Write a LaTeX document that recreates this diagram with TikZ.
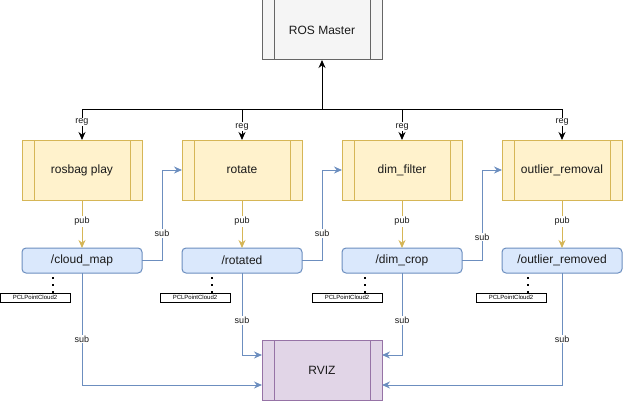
\documentclass[tikz,border=0pt]{standalone}
\usepackage{fontspec}
\setmainfont{Liberation Sans}
\usetikzlibrary{arrows.meta}
\definecolor{yfill}{HTML}{FFF2CC}
\definecolor{ydraw}{HTML}{D6B656}
\definecolor{bfill}{HTML}{DAE8FC}
\definecolor{bdraw}{HTML}{6C8EBF}
\definecolor{pfill}{HTML}{E1D5E7}
\definecolor{pdraw}{HTML}{9673A6}
\definecolor{gfill}{HTML}{F5F5F5}
\definecolor{gdraw}{HTML}{666666}
\definecolor{txt}{HTML}{1A1A1A}
\begin{document}
\begin{tikzpicture}[x=1pt,y=-1pt,
  box/.style={rectangle,minimum width=120pt,minimum height=60pt,inner sep=0pt,outer sep=0pt,line width=1pt,font=\fontsize{12}{14}\selectfont,text=txt},
  proc/.style={box,fill=yfill,draw=ydraw},
  master/.style={box,fill=gfill,draw=gdraw},
  viz/.style={box,fill=pfill,draw=pdraw},
  topic/.style={rectangle,rounded corners=4pt,minimum width=120pt,minimum height=25pt,inner sep=0pt,outer sep=0pt,fill=bfill,draw=bdraw,line width=1pt,font=\fontsize{12}{14}\selectfont,text=txt},
  pcl/.style={rectangle,minimum width=70pt,minimum height=9pt,inner sep=0pt,outer sep=0pt,draw=black,fill=white,line width=0.8pt,font=\fontsize{6}{7}\selectfont},
  lbl/.style={fill=white,inner sep=1pt,font=\fontsize{9}{10}\selectfont,text=txt},
  tip/.style={-{Stealth[length=8pt,width=7pt]}},
  regline/.style={tip,draw=black,line width=1pt},
  publine/.style={tip,draw=ydraw,line width=1pt},
  subline/.style={tip,draw=bdraw,line width=1pt},
  dotline/.style={draw=black,line width=1.6pt,dash pattern=on 1.6pt off 5.5pt}
]
\useasboundingbox (0,0) rectangle (623,401);

\node[master] (ros) at (322,30) {ROS Master};
\draw[gdraw,line width=1pt] ([xshift=12pt]ros.north west) -- ([xshift=12pt]ros.south west)
  ([xshift=-12pt]ros.north east) -- ([xshift=-12pt]ros.south east);

\node[proc] (rosbag) at (82,170) {rosbag play};
\node[proc] (rotate) at (242,170) {rotate};
\node[proc] (dimf) at (402,170) {dim\_filter};
\node[proc] (outl) at (562,170) {outlier\_removal};
\foreach \n in {rosbag,rotate,dimf,outl}{
  \draw[ydraw,line width=1pt] ([xshift=12pt]\n.north west) -- ([xshift=12pt]\n.south west)
    ([xshift=-12pt]\n.north east) -- ([xshift=-12pt]\n.south east);
}

\node[topic] (cloud) at (82,260.5) {/cloud\_map};
\node[topic] (rot) at (242,260.5) {/rotated};
\node[topic] (crop) at (402,260.5) {/dim\_crop};
\node[topic] (rem) at (562,260.5) {/outlier\_removed};

\node[viz] (rviz) at (322,370) {RVIZ};
\draw[pdraw,line width=1pt] ([xshift=12pt]rviz.north west) -- ([xshift=12pt]rviz.south west)
  ([xshift=-12pt]rviz.north east) -- ([xshift=-12pt]rviz.south east);

% reg bus
\coordinate (bus) at (322,110);
\draw[regline] (bus) -- (ros.south);
\draw[regline] (bus) -| node[lbl,pos=0.7]{reg} (rosbag.north);
\draw[regline] (bus) -| node[lbl,pos=0.78]{reg} (rotate.north);
\draw[regline] (bus) -| node[lbl,pos=0.78]{reg} (dimf.north);
\draw[regline] (bus) -| node[lbl,pos=0.7]{reg} (outl.north);

% pub
\draw[publine] (rosbag) -- node[lbl,pos=0.45]{pub} (cloud);
\draw[publine] (rotate) -- node[lbl,pos=0.45]{pub} (rot);
\draw[publine] (dimf) -- node[lbl,pos=0.45]{pub} (crop);
\draw[publine] (outl) -- node[lbl,pos=0.45]{pub} (rem);

% sub chain
\draw[subline] (cloud.east) -- ++(20pt,0) |- node[lbl,pos=0.15]{sub} (rotate.west);
\draw[subline] (rot.east) -- ++(20pt,0) |- node[lbl,pos=0.15]{sub} (dimf.west);
\draw[subline] (crop.east) -- ++(20pt,0) |- node[lbl,pos=0.13]{sub} (outl.west);

% sub to rviz
\draw[subline] (cloud.south) |- node[lbl,pos=0.295]{sub} ([yshift=-15pt]rviz.west);
\draw[subline] (rot.south) |- node[lbl,pos=0.29]{sub} ([yshift=15pt]rviz.west);
\draw[subline] (crop.south) |- node[lbl,pos=0.29]{sub} ([yshift=15pt]rviz.east);
\draw[subline] (rem.south) |- node[lbl,pos=0.295]{sub} ([yshift=-15pt]rviz.east);

% PCL boxes
\node[pcl] (p1) at (35,297.5) {PCLPointCloud2};
\node[pcl] (p2) at (195,297.5) {PCLPointCloud2};
\node[pcl] (p3) at (347,297.5) {PCLPointCloud2};
\node[pcl] (p4) at (511,297.5) {PCLPointCloud2};
\draw[dotline] ([xshift=18pt]p1.north) -- ([xshift=18pt]p1.north |- cloud.south);
\draw[dotline] ([xshift=17pt]p2.north) -- ([xshift=17pt]p2.north |- rot.south);
\draw[dotline] ([xshift=18pt]p3.north) -- ([xshift=18pt]p3.north |- crop.south);
\draw[dotline] ([xshift=17pt]p4.north) -- ([xshift=17pt]p4.north |- rem.south);
\end{tikzpicture}
\end{document}
